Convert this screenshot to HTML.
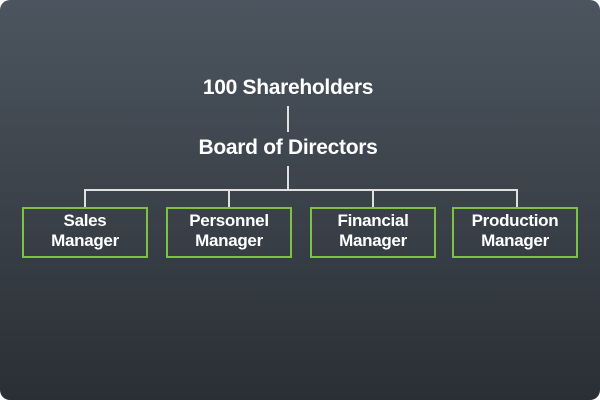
<!DOCTYPE html>
<html><head><style>
html,body{margin:0;padding:0;background:#fff;}
#c{position:relative;width:600px;height:400px;border-radius:10px;overflow:hidden;background:linear-gradient(#4c555f,#2a2f35);font-family:"Liberation Sans",sans-serif;font-weight:bold;color:#fff;}
.t{position:absolute;left:0;width:576px;text-align:center;font-size:21px;letter-spacing:-0.3px;}
.l{position:absolute;background:#e0e0e0;}
.b{position:absolute;top:207px;width:122px;height:45px;border:2px solid #7dc242;text-align:center;font-size:17px;line-height:20px;padding-top:2px;box-sizing:content-box;letter-spacing:-0.3px;}
</style></head><body>
<div id="c">
<div class="t" style="top:76px">100 Shareholders</div>
<div class="l" style="left:287px;top:106px;width:2px;height:26px"></div>
<div class="t" style="top:136px">Board of Directors</div>
<div class="l" style="left:287px;top:166px;width:2px;height:25px"></div>
<div class="l" style="left:84px;top:189px;width:434px;height:2px"></div>
<div class="l" style="left:84px;top:189px;width:2px;height:18px"></div>
<div class="l" style="left:228px;top:189px;width:2px;height:18px"></div>
<div class="l" style="left:372px;top:189px;width:2px;height:18px"></div>
<div class="l" style="left:516px;top:189px;width:2px;height:18px"></div>
<div class="b" style="left:22px">Sales<br>Manager</div>
<div class="b" style="left:166px">Personnel<br>Manager</div>
<div class="b" style="left:310px">Financial<br>Manager</div>
<div class="b" style="left:452px">Production<br>Manager</div>
</div>
</body></html>
